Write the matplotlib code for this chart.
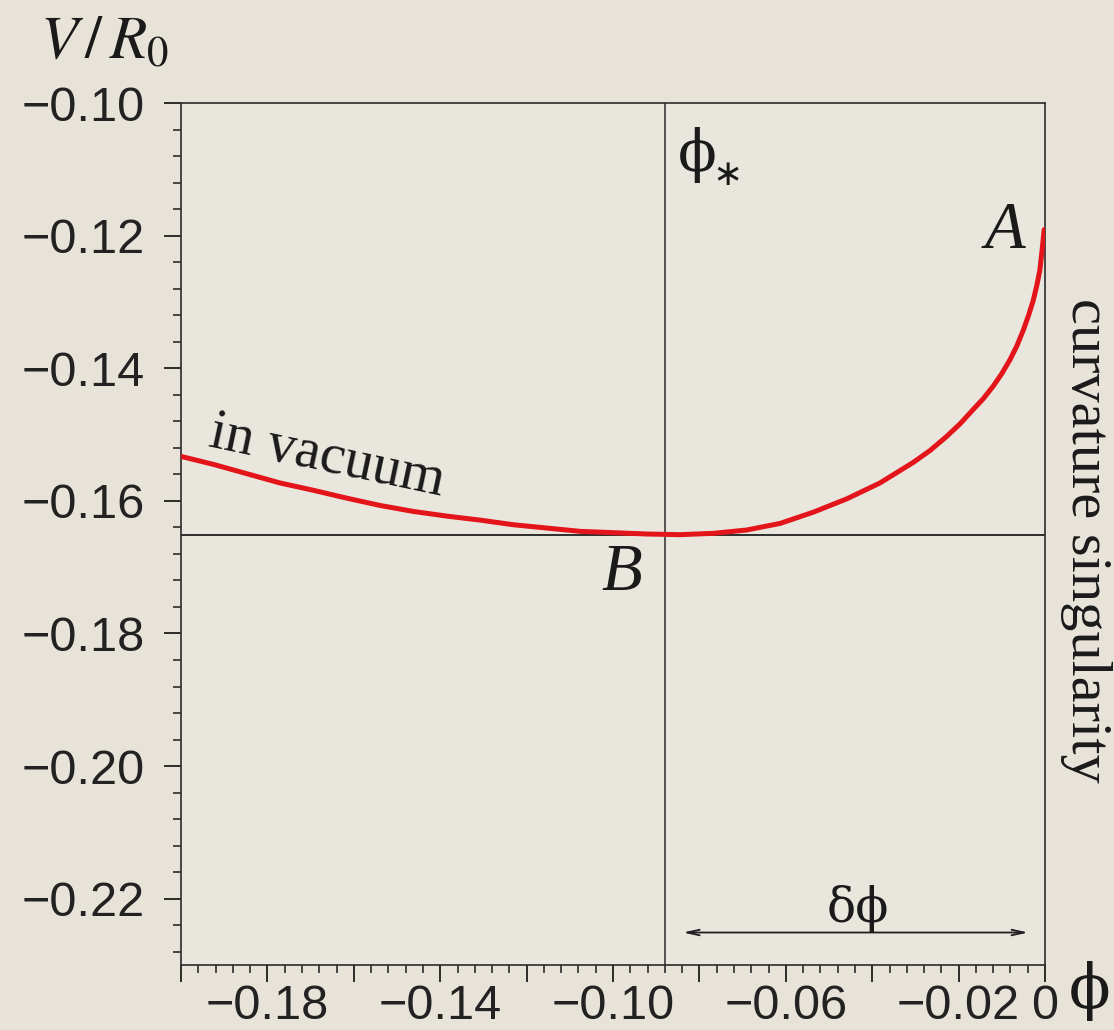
import matplotlib

matplotlib.use("Agg")
import matplotlib.pyplot as plt
from matplotlib.ticker import FixedLocator, MultipleLocator

# potential V/R0 along phi
phi = [
    -0.2000, -0.1925, -0.1848, -0.1771, -0.1694, -0.1616, -0.1539, -0.1462,
    -0.1385, -0.1308, -0.1231, -0.1154, -0.1076, -0.0999, -0.0922, -0.0845,
    -0.0768, -0.0691, -0.0613, -0.0536, -0.0459, -0.0382, -0.0305, -0.0266,
    -0.0228, -0.0197, -0.0166, -0.0143, -0.0120, -0.0100, -0.0081, -0.0065,
    -0.0050, -0.0038, -0.0027, -0.0019, -0.0012, -0.0007, -0.0002,
]
potential = [
    -0.1533, -0.1545, -0.1559, -0.1573, -0.1584, -0.1596, -0.1607, -0.1616,
    -0.1623, -0.1629, -0.1636, -0.1641, -0.1646, -0.1648, -0.1650, -0.1651,
    -0.1649, -0.1644, -0.1634, -0.1617, -0.1597, -0.1573, -0.1542, -0.1524,
    -0.1503, -0.1484, -0.1462, -0.1446, -0.1427, -0.1408, -0.1387, -0.1366,
    -0.1342, -0.1320, -0.1297, -0.1275, -0.1252, -0.1223, -0.1191,
]

phi_star = -0.0880
v_min = -0.1651
delta_phi_span = [-0.0838, -0.0039]

xlim = [-0.20, 0.0]
ylim = [-0.23, -0.10]
yticks = [-0.10, -0.12, -0.14, -0.16, -0.18, -0.20, -0.22]
xticks = [-0.20, -0.18, -0.16, -0.14, -0.12, -0.10, -0.08, -0.06, -0.04, -0.02, 0.0]
xtick_labels = ["", "\u22120.18", "", "\u22120.14", "", "\u22120.10", "",
                "\u22120.06", "", "\u22120.02", "0"]

BG = "#e7e3d9"
SERIF = ["Liberation Serif", "DejaVu Serif"]
PHI_FONT = ["DejaVu Serif"]
INK = "#1a1a1a"

plt.rcParams["mathtext.fontset"] = "stix"
plt.rcParams["font.family"] = ["Liberation Sans", "DejaVu Sans"]

fig = plt.figure(figsize=(11.14, 10.30), dpi=100, facecolor=BG)
ax = fig.add_axes([0.1625, 0.0631, 0.7756, 0.8369], facecolor="#e9e6de")

ax.set_xlim(*xlim)
ax.set_ylim(*ylim)

for side in ("left", "right", "top", "bottom"):
    ax.spines[side].set_color("#2b2b2b")
    ax.spines[side].set_linewidth(1.2)

ax.xaxis.set_major_locator(FixedLocator(xticks))
ax.set_xticklabels(xtick_labels)
ax.xaxis.set_minor_locator(MultipleLocator(0.004))
ax.yaxis.set_major_locator(FixedLocator(yticks))
ax.set_yticklabels([f"\u2212{abs(v):.2f}" for v in yticks])
ax.yaxis.set_minor_locator(MultipleLocator(0.004))

ax.tick_params(which="major", direction="out", length=12, width=1.4,
               color="#2b2b2b", labelsize=35, labelcolor="#222222")
ax.tick_params(which="minor", direction="out", length=6, width=1.2,
               color="#2b2b2b")
ax.tick_params(axis="y", which="major", pad=14)
ax.tick_params(axis="x", which="major", pad=2)
ax.tick_params(top=False, right=False, which="both")

# guide lines
ax.axvline(phi_star, color="#3a3a3a", linewidth=1.2, zorder=1)
ax.axhline(v_min, color="#1f1f1f", linewidth=1.3, zorder=1)

# potential curve
ax.plot(phi, potential, color="#e3151b", linewidth=3.6, solid_capstyle="round",
        solid_joinstyle="round", zorder=3)

# labels in the plot
ax.text(-0.0093, -0.1194, "A", family=SERIF, style="italic", fontsize=48,
        ha="center", va="center", color=INK)
ax.text(-0.0979, -0.1709, "B", family=SERIF, style="italic", fontsize=48,
        ha="center", va="center", color=INK)
ax.text(-0.0806, -0.1078, "\u03d5", family=PHI_FONT, fontsize=41,
        ha="center", va="center", color=INK)
ax.text(-0.0734, -0.1108, "\u2217", family=["DejaVu Sans"], fontsize=26,
        ha="center", va="center", color=INK)
ax.text(-0.1940, -0.1518, "in vacuum", family=SERIF, fontsize=41,
        rotation=-12, rotation_mode="anchor", ha="left", va="baseline",
        color=INK)

# delta phi arrow
ax.annotate("", xy=(delta_phi_span[0], -0.2251), xytext=(delta_phi_span[1], -0.2251),
            arrowprops=dict(arrowstyle="<->,head_length=0.9,head_width=0.2",
                            color="#1f1f1f", linewidth=1.3, shrinkA=0, shrinkB=0))
ax.text(-0.0433, -0.2215, "\u03b4\u03d5", family=PHI_FONT, fontsize=35,
        ha="center", va="center", color=INK)

# outside labels
ax.text(1.047, 0.493, "curvature singularity", transform=ax.transAxes,
        family=SERIF, fontsize=42, rotation=-90, ha="center", va="center",
        color=INK)
ax.text(1.051, -0.030, "\u03d5", transform=ax.transAxes, family=PHI_FONT,
        fontsize=44, ha="center", va="center", color=INK)
fig.text(0.094, 0.958, r"$V\,/\,R_0$", fontsize=44, ha="center", va="center",
         color=INK)

fig.savefig("out.png", dpi=100, facecolor=BG)
